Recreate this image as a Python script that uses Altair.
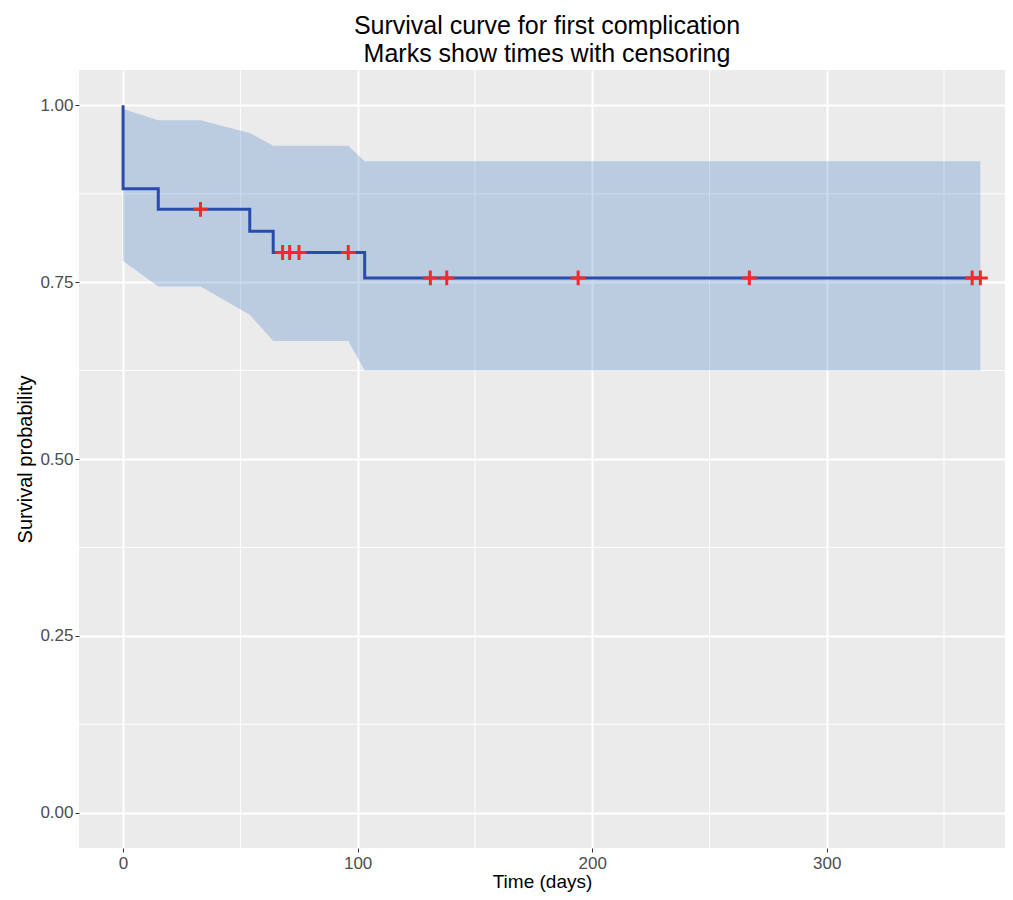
import altair as alt
import pandas as pd

# Kaplan-Meier step curve
step_time = [0, 0, 15, 54, 64, 103, 365.5]
step_surv = [1.0, 0.882, 0.853, 0.822, 0.792, 0.756, 0.756]

# Confidence band (linear between time points, as drawn)
band_time = [0, 15, 33, 54, 64, 96, 103, 365.5]
band_lower = [0.780, 0.744, 0.744, 0.704, 0.667, 0.667, 0.625, 0.625]
band_upper = [0.995, 0.979, 0.979, 0.961, 0.943, 0.943, 0.921, 0.921]

# Censoring marks
censor_time = [33, 68, 71, 75, 96, 131, 138, 194, 267, 362, 365.5]
censor_surv = [0.853, 0.792, 0.792, 0.792, 0.792, 0.756, 0.756, 0.756, 0.756, 0.756, 0.756]

# Axis ticks and minor grid
x_ticks = [0, 100, 200, 300]
y_ticks = [0.0, 0.25, 0.5, 0.75, 1.0]
minor_x = [50, 150, 250, 350]
minor_y = [0.125, 0.375, 0.625, 0.875]

FONT = "Liberation Sans"

step_df = pd.DataFrame({"t": step_time, "s": step_surv, "idx": list(range(len(step_time)))})
band_df = pd.DataFrame({"t": band_time, "s": band_lower, "s2": band_upper})
cens_df = pd.DataFrame({"t": censor_time, "s": censor_surv})
mx_df = pd.DataFrame({"t": minor_x})
my_df = pd.DataFrame({"s": minor_y})

xs = alt.Scale(domain=[-18.8, 376], nice=False, zero=False)
ys = alt.Scale(domain=[-0.05, 1.05], nice=False, zero=False)

xaxis = alt.Axis(
    values=x_ticks, title="Time (days)", grid=True, gridColor="white", gridWidth=2,
    domain=False, tickColor="#333333", tickSize=4, tickWidth=1,
    labelColor="#4D4D4D", labelFontSize=17, labelFont=FONT, labelPadding=3,
    titleFont=FONT, titleFontSize=19, titleFontWeight="normal", titleColor="black",
    titlePadding=1,
)
yaxis = alt.Axis(
    values=y_ticks, format=".2f", title="Survival probability", grid=True,
    gridColor="white", gridWidth=2, domain=False, tickColor="#333333", tickSize=4,
    tickWidth=1, labelColor="#4D4D4D", labelFontSize=17, labelFont=FONT, labelPadding=2,
    titleFont=FONT, titleFontSize=20, titleFontWeight="normal", titleColor="black",
    titlePadding=4,
)


def X():
    return alt.X("t:Q", scale=xs, axis=xaxis)


def Y():
    return alt.Y("s:Q", scale=ys, axis=yaxis)


minor_v = alt.Chart(mx_df).mark_rule(color="white", strokeWidth=1).encode(x=X())
minor_h = alt.Chart(my_df).mark_rule(color="white", strokeWidth=1).encode(y=Y())

band = alt.Chart(band_df).mark_area(color="#3B7BC7", opacity=0.27, interpolate="linear").encode(
    x=X(), y=Y(), y2="s2:Q"
)

line = alt.Chart(step_df).mark_line(color="#2A4BAE", strokeWidth=3, interpolate="step-after").encode(
    x=X(), y=Y(), order="idx:Q"
)

cens = alt.Chart(cens_df).mark_point(
    shape="M-1,0L1,0M0,-1L0,1", size=220, filled=False, color="#F42A2A",
    strokeWidth=3, opacity=1,
).encode(x=X(), y=Y())

chart = alt.layer(minor_v, minor_h, band, line, cens).properties(
    width=926,
    height=778,
    autosize=alt.AutoSizeParams(type="none"),
    padding={"left": 71, "top": 62, "right": 0, "bottom": 44},
    title=alt.Title(
        ["Survival curve for first complication", " Marks show times with censoring"],
        font=FONT, fontSize=25, fontWeight="normal", color="black",
        anchor="middle", lineHeight=28, offset=3, dx=5,
    ),
    background="white",
).configure_view(fill="#EBEBEB", strokeWidth=0)

chart.save("out.html", embed_options={"renderer": "svg", "actions": False})
